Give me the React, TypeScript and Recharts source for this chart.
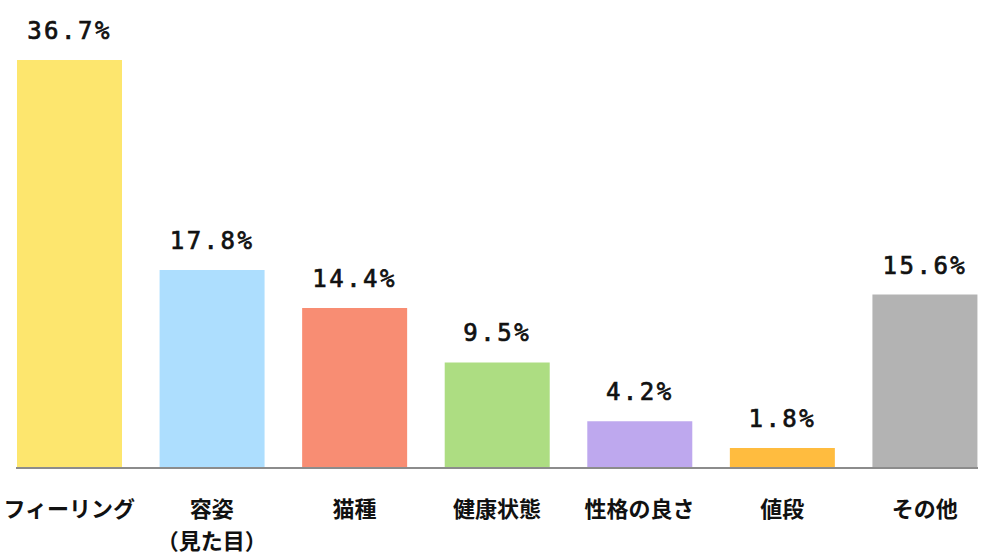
import React from 'react';
import { BarChart, Bar, XAxis, YAxis, Cell, LabelList } from 'recharts';

const categories = ['フィーリング', '容姿\n（見た目）', '猫種', '健康状態', '性格の良さ', '値段', 'その他'];
const shares = [36.7, 17.8, 14.4, 9.5, 4.2, 1.8, 15.6];

const barColors = ['#fde66e', '#addefe', '#f88d73', '#addd82', '#bea8ee', '#ffbc3f', '#b3b3b3'];

const data = categories.map((name, i) => ({ name, share: shares[i] }));

const CategoryTick = ({ x, y, payload }: any) => {
  const lines = String(payload.value).split('\n');
  return (
    <text
      x={x}
      y={y}
      textAnchor="middle"
      fill="#111"
      fontSize={22}
      fontWeight="bold"
      fontFamily='"Noto Sans CJK JP", sans-serif'
    >
      {lines.map((line, i) => (
        <tspan key={i} x={x} dy={i === 0 ? 49 : 32}>
          {line}
        </tspan>
      ))}
    </text>
  );
};

const App: React.FC = () => {
  return (
    <div style={{ position: 'absolute', left: 0, top: 0, width: 995, height: 554, background: '#fff' }}>
      <BarChart
        width={995}
        height={554}
        data={data}
        margin={{ top: 60, right: 17, left: 16, bottom: 0 }}
      >
        <XAxis
          dataKey="name"
          height={86}
          interval={0}
          padding={{ left: -18, right: -18 }}
          tickLine={false}
          tickSize={0}
          tickMargin={0}
          axisLine={{ stroke: '#8c8c8c', strokeWidth: 2 }}
          tick={<CategoryTick />}
        />
        <YAxis hide domain={[0, 'dataMax']} />
        <Bar dataKey="share" barSize={105} isAnimationActive={false}>
          {data.map((entry, index) => (
            <Cell key={`cell-${index}`} fill={barColors[index]} />
          ))}
          <LabelList
            dataKey="share"
            position="top"
            offset={21}
            formatter={(v: any) => `${v}%`}
            fill="#111"
            stroke="#111"
            strokeWidth={0.7}
            fontSize={24}
            letterSpacing={2.5}
            fontFamily='"DejaVu Sans Mono", monospace'
          />
        </Bar>
      </BarChart>
    </div>
  );
};

export default App;
